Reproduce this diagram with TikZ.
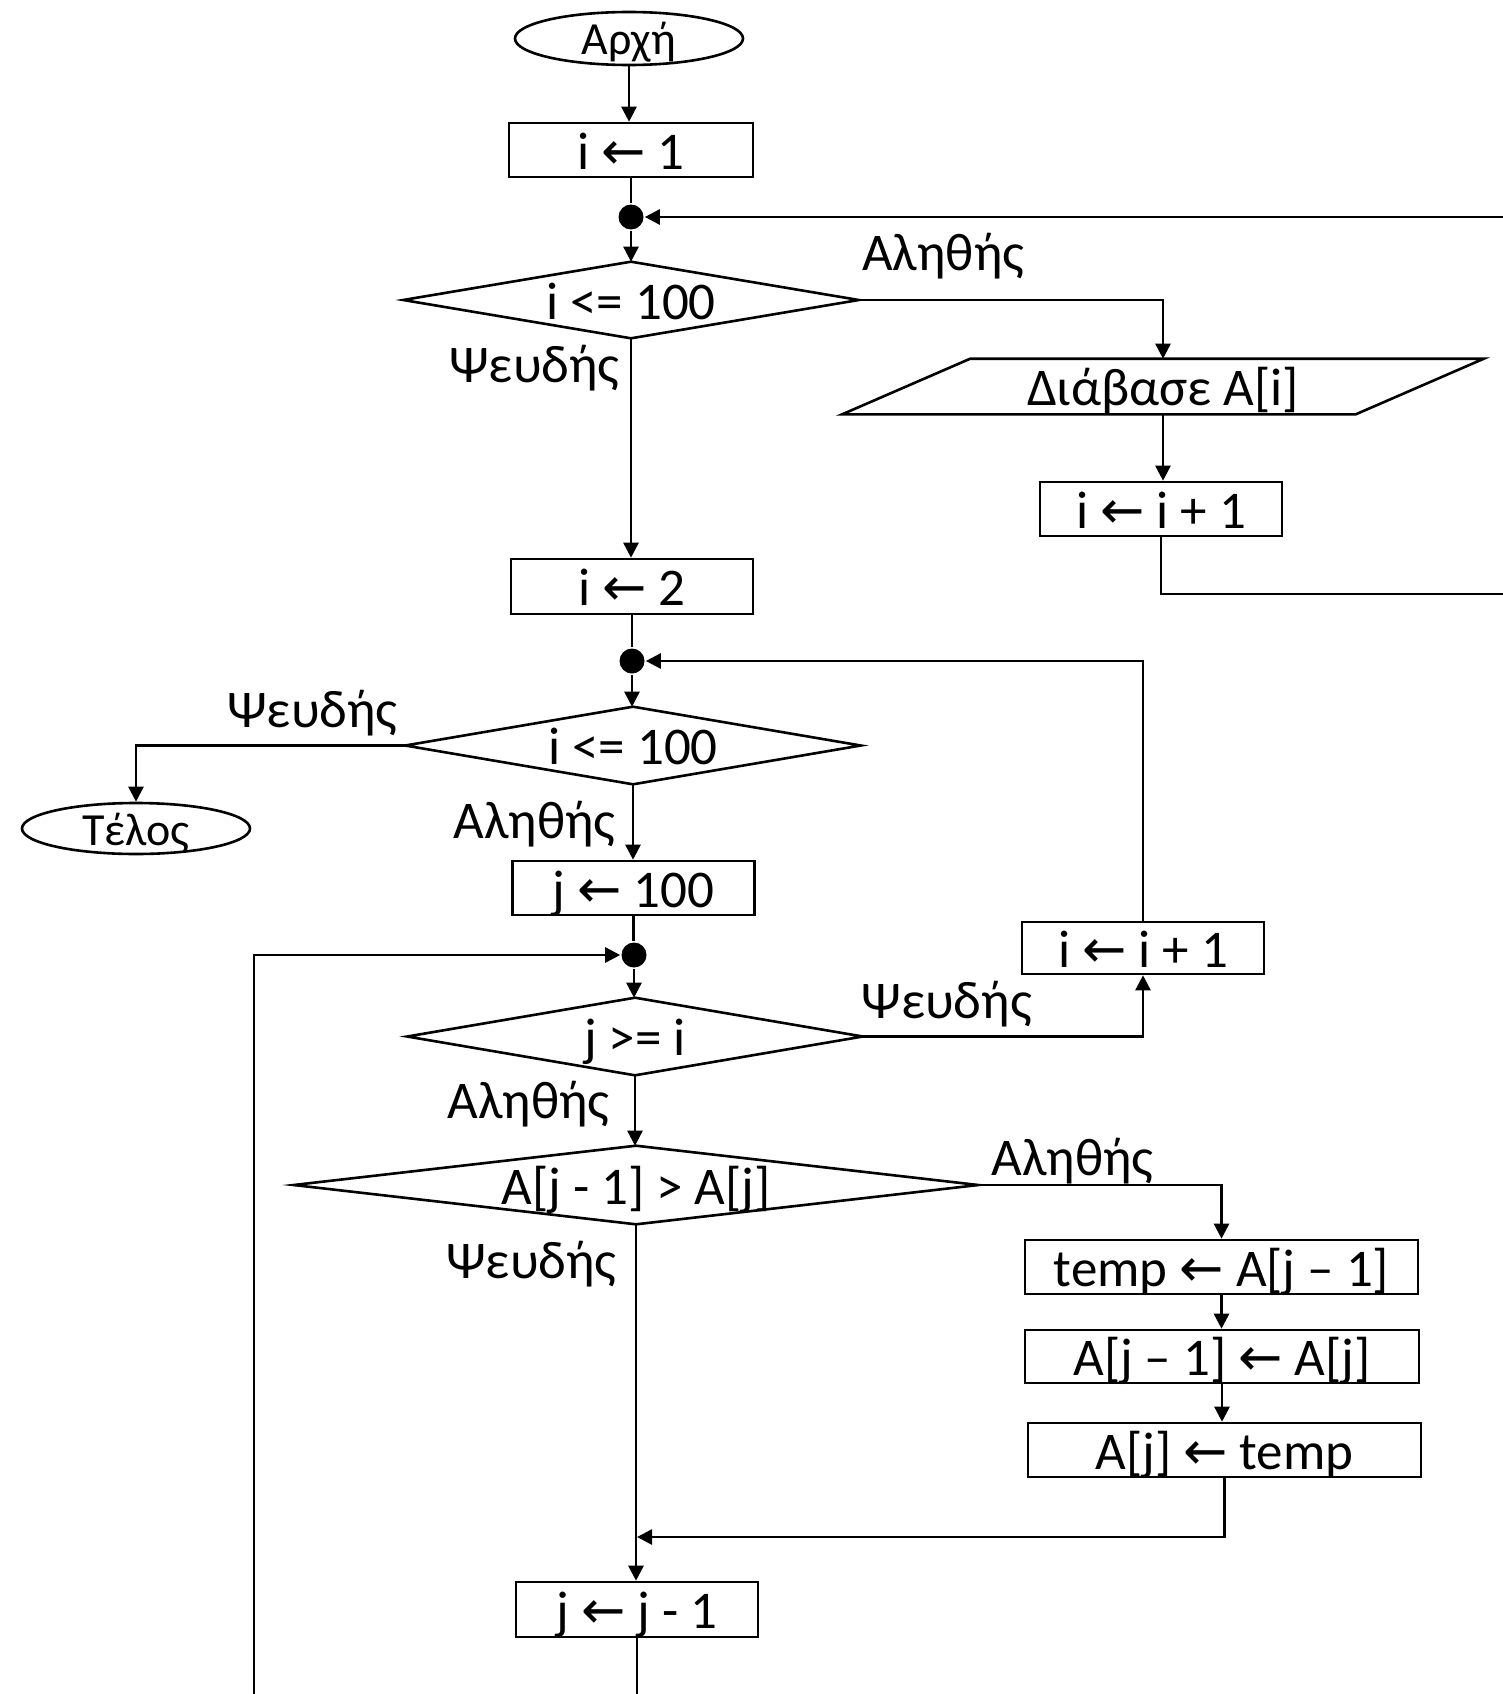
\documentclass[tikz,border=0pt]{standalone}
\usepackage{fontspec}
\setmainfont{Carlito}
\newfontfamily\arrfont{DejaVu Sans}
\newcommand{\la}{{\arrfont ←}}
\usetikzlibrary{arrows.meta,shapes.geometric}
\begin{document}
\begin{tikzpicture}[x=1pt,y=-1pt,line width=2.6pt,
  base/.style={font=\fontsize{53}{60}\selectfont, inner sep=0pt, text height=38pt, text depth=0pt},
  box/.style={base, draw, rectangle, minimum height=54pt},
  term/.style={draw, ellipse, inner sep=0pt, font=\fontsize{46}{52}\selectfont, text height=33pt, text depth=0pt, minimum width=228pt},
  blank/.style={base, rectangle, draw=none},
  lbl/.style={font=\fontsize{53}{60}\selectfont, inner sep=0pt},
  jdot/.style={circle, fill, draw=none, inner sep=0pt, minimum size=25pt},
  arr/.style={-{Triangle[length=15pt,width=15pt]}}]
\useasboundingbox (0,0) rectangle (1503,1694);
\clip (0,0) rectangle (1503,1694);

% nodes
\node[term, minimum height=53pt] (start) at (629,38.5) {Αρχή};
\node[box, minimum width=244pt] (init) at (631,150) {i \la{} 1};
\node[jdot] (dot1) at (631,217) {};
\node[blank, minimum width=453pt, minimum height=74pt] (d1) at (631,300) {i <= 100};
\node[blank, minimum width=639pt, minimum height=53pt] (rd) at (1163,386.5) {Διάβασε A[i]};
\node[box, minimum width=242pt] (inc1) at (1161,509) {i \la{} i + 1};
\node[box, minimum width=242pt, minimum height=55pt] (i2) at (632,586.5) {i \la{} 2};
\node[jdot] (dot2) at (632,661) {};
\node[blank, minimum width=453pt, minimum height=75pt] (d2) at (633,745.5) {i <= 100};
\node[term, minimum height=51pt] (end) at (136,828.5) {Τέλος};
\node[box, minimum width=242pt] (j100) at (633.5,888) {j \la{} 100};
\node[jdot] (dot3) at (634,955) {};
\node[box, minimum width=242pt, minimum height=52pt] (inc2) at (1143,948) {i \la{} i + 1};
\node[blank, minimum width=453pt, minimum height=75pt] (d3) at (635,1036.5) {j >= i};
\node[blank, minimum width=682pt, minimum height=76pt] (d4) at (636,1185) {A[j - 1] > A[j]};
\node[box, minimum width=393pt] (t1) at (1221.5,1267) {temp \la{} A[j – 1]};
\node[box, minimum width=394pt, minimum height=53pt] (t2) at (1222,1356.5) {A[j – 1] \la{} A[j]};
\node[box, minimum width=393pt] (t3) at (1224.5,1450) {A[j] \la{} temp};
\node[box, minimum width=242pt, minimum height=55pt] (jm) at (637,1609.5) {j \la{} j - 1};

% diamond and parallelogram outlines
\draw (d1.north) -- (d1.east) -- (d1.south) -- (d1.west) -- cycle;
\draw (d2.north) -- (d2.east) -- (d2.south) -- (d2.west) -- cycle;
\draw (d3.north) -- (d3.east) -- (d3.south) -- (d3.west) -- cycle;
\draw (d4.north) -- (d4.east) -- (d4.south) -- (d4.west) -- cycle;
\draw ([xshift=128pt]rd.north west) -- (rd.north east) -- ([xshift=-128pt]rd.south east) -- (rd.south west) -- cycle;

% labels
\node[lbl, anchor=base west] (l1) at (861,270) {Αληθής};
\node[lbl, anchor=base east] (l2) at (621,382) {Ψευδής};
\node[lbl, anchor=base east] (l3) at (399,727) {Ψευδής};
\node[lbl, anchor=base east] (l4) at (617,838) {Αληθής};
\node[lbl, anchor=base west] (l5) at (860,1018) {Ψευδής};
\node[lbl, anchor=base east] (l6) at (611,1118) {Αληθής};
\node[lbl, anchor=base west] (l7) at (990,1175) {Αληθής};
\node[lbl, anchor=base east] (l8) at (618,1278) {Ψευδής};

% helper coordinates
\coordinate (r1) at (1515,594);
\coordinate (r2) at (1515,217);
\coordinate (m) at (637,1537);
\coordinate (b1) at (637,1710);
\coordinate (b2) at (254,1710);

% connectors
\draw[arr] (start.south) -- (start.south |- init.north);
\draw (init.south) -- (init.south |- dot1.north);
\draw[arr] (dot1) -- (d1.north);
\draw[arr] (d1.east) -| (rd.north);
\draw[arr] (rd.south) -- (rd.south |- inc1.north);
\draw[arr] (inc1.south) |- (r1) -- (r2) -- (dot1);
\draw[arr] (d1.south) -- (d1.south |- i2.north);
\draw (i2.south) -- (i2.south |- dot2.north);
\draw[arr] (dot2) -- (dot2 |- d2.north);
\draw[arr] (d2.west) -| (end.north);
\draw[arr] (d2.south) -- (d2.south |- j100.north);
\draw (j100.south) -- (j100.south |- dot3.north);
\draw[arr] (dot3) -- (dot3 |- d3.north);
\draw[arr] (d3.east) -| (inc2.south);
\draw[arr] (inc2.north) |- (dot2);
\draw[arr] (d3.south) -- (d3.south |- d4.north);
\draw[arr] (d4.east) -| (t1.north);
\draw[arr] (t1.south) -- (t1.south |- t2.north);
\draw[arr] (t2.south) -- (t2.south |- t3.north);
\draw[arr] (t3.south) |- (m);
\draw[arr] (d4.south) -- (d4.south |- jm.north);
\draw (jm.south) -- (jm.south |- b1);
\draw[arr] (b2) |- (dot3);
\end{tikzpicture}
\end{document}
